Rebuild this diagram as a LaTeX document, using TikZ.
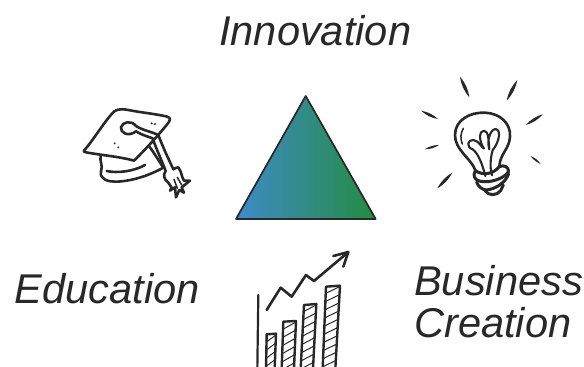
\documentclass[tikz,border=0pt]{standalone}
\usepackage{fontspec}
\setmainfont{Liberation Sans}
\definecolor{ink}{HTML}{282828}
\tikzset{
  label/.style={anchor=base west,inner sep=0pt,text=ink,font=\itshape\fontsize{41.6}{44}\selectfont},
  sketch/.style={draw=ink,line width=2.6pt,line cap=round,line join=round,fill=none},
  thin sketch/.style={draw=ink,line width=1.5pt,line cap=round,line join=round},
  zoomed/.style={x=0.3333pt,y=-0.3333pt}
}
\newcommand{\tapered}[2]{\fill[ink] #1 to[bend left=15] #2 to[bend left=15] #1;}
\begin{document}
\begin{tikzpicture}[x=1pt,y=-1pt]
\useasboundingbox (0,0) rectangle (584,367);
% labels
\node[label] (innov) at (219,45) {Innovation};
\node[label] (edu) at (14.5,303) {Education};
\node[label] (bus) at (414,295) {Business};
\node[label] (crea) at (414,337) {Creation};
% triangle
\coordinate (apex) at (305.7,96);
\coordinate (bl) at (236,219);
\coordinate (br) at (375.7,219);
\begin{scope}
\clip (apex) -- (bl) -- (br) -- cycle;
\shade[left color={rgb,255:red,62;green,139;blue,200},right color={rgb,255:red,36;green,140;blue,66}] (236,96) rectangle (375.7,219);
\end{scope}
\draw[draw=ink,line width=1.7pt,line join=round] (apex) -- (bl) -- (br) -- cycle;
% cap
\begin{scope}[shift={(70,90)},zoomed]
\draw[sketch] (42,182) .. controls (70,150) and (100,100) .. (125,72)
  .. controls (135,58) and (150,55) .. (175,60)
  .. controls (215,68) and (260,72) .. (292,80)
  .. controls (305,84) and (300,93) .. (290,105)
  .. controls (265,135) and (230,175) .. (192,212)
  .. controls (150,200) and (90,195) .. (48,187)
  .. controls (42,186) and (40,184) .. (42,182) -- cycle;
% string and loop
\draw[sketch] (198,124) .. controls (175,142) and (150,128) .. (153,112)
  .. controls (157,95) and (185,90) .. (198,108)
  .. controls (220,122) and (245,125) .. (265,135)
  .. controls (280,175) and (295,205) .. (310,238);
\draw[sketch] (198,124) .. controls (215,135) and (235,140) .. (248,145)
  .. controls (260,180) and (275,210) .. (287,243);
% tassel
\draw[sketch] (287,243) .. controls (278,255) and (282,268) .. (295,278)
  -- (305,293) -- (300,302) -- (315,292) -- (318,322) -- (328,300) -- (342,308) -- (335,292) -- (360,272)
  -- (342,272) .. controls (335,262) and (335,245) .. (325,232)
  .. controls (320,232) and (315,235) .. (310,238);
\draw[thin sketch] (312,268) -- (322,295);
\draw[thin sketch] (322,262) -- (335,285);
% hat body
\draw[sketch] (92,197) .. controls (88,215) and (100,225) .. (93,245)
  .. controls (88,268) and (115,275) .. (135,275)
  .. controls (180,275) and (235,258) .. (280,233)
  .. controls (265,210) and (250,185) .. (238,170);
\draw[sketch] (110,243) .. controls (140,250) and (190,245) .. (225,225);
% dots
\fill[ink] (245,100) circle[radius=3.5] (255,102) circle[radius=3.5] (134,160) circle[radius=3.2] (145,172) circle[radius=3.2];
\end{scope}
% bulb
\begin{scope}[shift={(410,70)},zoomed]
\tapered{(150,20)}{(178,82)}
\tapered{(322,30)}{(290,92)}
\tapered{(33,122)}{(84,147)}
\tapered{(398,133)}{(348,165)}
\tapered{(44,238)}{(87,225)}
\tapered{(362,258)}{(392,282)}
\tapered{(127,308)}{(82,355)}
\draw[sketch] (196,300) .. controls (180,262) and (135,240) .. (135,195)
  .. controls (135,150) and (180,126) .. (225,128)
  .. controls (270,130) and (303,160) .. (300,200)
  .. controls (298,238) and (270,250) .. (268,290);
\draw[thin sketch] (160,175) .. controls (152,190) and (150,205) .. (157,222);
% filament
\draw[sketch,line width=2.1pt] (226,318) .. controls (218,285) and (205,250) .. (188,238)
  .. controls (168,232) and (172,208) .. (190,210)
  .. controls (208,213) and (214,232) .. (222,236)
  .. controls (205,210) and (208,182) .. (222,182)
  .. controls (236,182) and (236,215) .. (238,238)
  .. controls (228,205) and (246,172) .. (260,178)
  .. controls (276,186) and (262,225) .. (248,240)
  .. controls (240,270) and (240,295) .. (246,316);
% base
\draw[sketch,line width=3pt] (196,302) .. controls (186,318) and (196,332) .. (212,334)
  .. controls (240,340) and (285,325) .. (296,304)
  .. controls (295,290) and (282,284) .. (268,290)
  .. controls (250,312) and (220,318) .. (196,302);
\draw[sketch,line width=3pt] (200,336) .. controls (205,350) and (215,358) .. (228,360)
  .. controls (255,358) and (285,340) .. (296,312);
\draw[sketch,line width=3pt] (225,362) .. controls (235,378) and (260,378) .. (272,362)
  -- (280,345);
\end{scope}
% chart
\begin{scope}
\clip (240,245) rectangle (360,367);
\begin{scope}[shift={(240,245)},zoomed]
\draw[draw=ink,line width=2.2pt,line cap=round] (55,150) -- (52,370);
\draw[sketch] (80,195) -- (122,128) -- (155,155) -- (198,90) -- (222,108) -- (318,27);
\draw[sketch] (280,33) -- (325,21) -- (310,65);
\foreach \xa/\ya/\xb/\yb/\xc/\xd in {80/268/108/266/104/78, 130/230/168/228/162/125, 192/180/229/177/219/182, 258/125/300/122/286/248}{
  \begin{scope}
  \clip (\xa,\ya) -- (\xb,\yb) -- (\xc,372) -- (\xd,372) -- cycle;
  \foreach \s in {0,1,...,14}{
    \draw[draw=ink,line width=1pt] (\xd-5,{\yb+30+\s*24}) -- (\xb+5,{\yb+\s*24});
  }
  \end{scope}
  \draw[draw=ink,line width=2.4pt,line join=round] (\xd,372) -- (\xa,\ya) -- (\xb,\yb) -- (\xc,372);
}
\end{scope}
\end{scope}
\end{tikzpicture}
\end{document}
